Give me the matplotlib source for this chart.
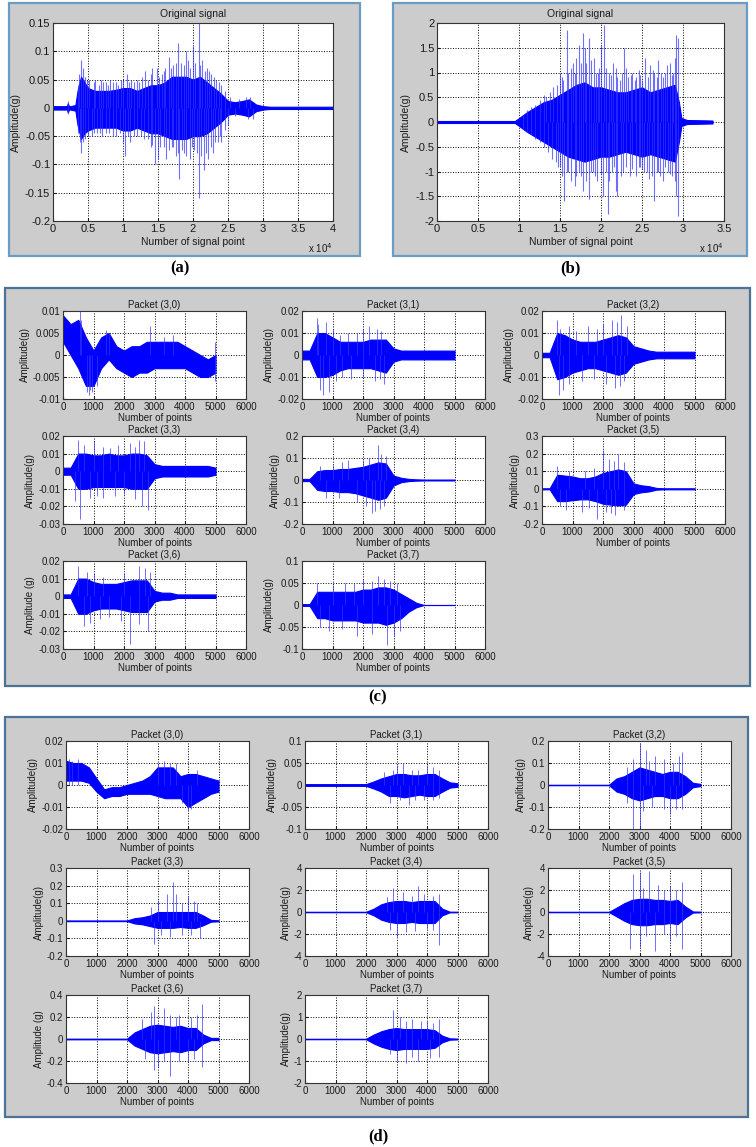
import matplotlib
matplotlib.use('Agg')
import matplotlib.pyplot as plt
from matplotlib.patches import Rectangle
from matplotlib.ticker import FuncFormatter

plt.rcParams['font.family'] = ['Liberation Sans', 'DejaVu Sans']

# ---------------- data ----------------
# (a) original signal: core envelope + individual spikes
A_X = [0, 2000, 2100, 2300, 2500, 3200, 3500, 4000, 4500, 5000, 6000, 7000, 8000, 9000,
       10000, 11000, 12000, 13000, 14000, 15000, 16000, 17000, 18000, 19000, 20000, 21000,
       22000, 23000, 24000, 25000, 26000, 27000, 28000, 29000, 30000, 31000, 40000]
A_HI = [.003, .003, .008, .003, .003, .005, .030, .055, .045, .035, .030, .030, .030, .032,
        .035, .035, .030, .035, .040, .040, .045, .055, .055, .055, .050, .055,
        .045, .035, .025, .012, .010, .012, .015, .006, .003, .002, .002]
A_LO = [-.003, -.003, -.008, -.003, -.003, -.005, -.030, -.055, -.045, -.040, -.035, -.035, -.035, -.035,
        -.040, -.040, -.035, -.040, -.045, -.045, -.050, -.055, -.055, -.055, -.050, -.050,
        -.045, -.035, -.025, -.012, -.010, -.012, -.015, -.006, -.003, -.002, -.002]
A_SPK_X = [2200, 3700, 4000, 4300, 4600, 5200, 6000, 6800, 7500, 8200, 9000, 9700, 10500, 11200,
           12000, 12700, 13200, 14200, 14800, 15500, 16500, 17200, 17800, 18300, 19000, 19500,
           20000, 20800, 21300, 22000, 22600, 23300, 24000, 24600, 27600,
           3500, 4800, 5800, 6500, 7200, 7800, 8600, 9300, 10000, 10800, 11600, 12300, 13600,
           14000, 15200, 15800, 16000, 16800, 17500, 18700, 19300, 20300, 21000, 21700, 22300,
           23000, 23700, 25300, 26500, 28200,
           2200, 3800, 4000, 4600, 5500, 6300, 7000, 8000, 9000, 10300, 11000, 12000, 13000,
           14000, 14500, 15000, 15800, 16200, 17000, 17500, 18000, 18700, 19500, 20200, 20800,
           21500, 22200, 22800, 23500, 24000, 25000, 27800,
           3500, 4300, 5000, 5800, 6700, 7500, 8500, 9500, 10000, 10700, 11500, 12500, 13500,
           14200, 15300, 16500, 17200, 17800, 18400, 19000, 19800, 20500, 21200, 21800, 22500,
           23200, 23800, 24500, 26000, 28500]
A_SPK_Y = [.012, .06, .085, .07, .055, .05, .05, .05, .045, .05, .045, .05, .06, .05,
           .05, .055, .065, .07, .07, .06, .09, .075, .115, .08, .1, .07,
           .11, .15, .085, .07, .06, .05, .04, .03, .02,
           .04, .05, .045, .04, .045, .04, .045, .04, .05, .045, .045, .045, .05,
           .06, .055, .065, .07, .07, .08, .075, .085, .08, .075, .065, .065,
           .055, .045, .02, .015, .02,
           -.01, -.06, -.08, -.055, -.05, -.045, -.05, -.045, -.05, -.085, -.06, -.05, -.055,
           -.07, -.1, -.09, -.07, -.09, -.07, -.085, -.125, -.08, -.09, -.075, -.16,
           -.11, -.09, -.08, -.06, -.06, -.03, -.02,
           -.045, -.06, -.05, -.045, -.045, -.045, -.05, -.045, -.06, -.05, -.05, -.05, -.055,
           -.065, -.07, -.075, -.07, -.08, -.075, -.085, -.07, -.08, -.085, -.08, -.07,
           -.06, -.05, -.04, -.015, -.02]

# (b) original signal
B_X = [0, 9500, 10000, 11000, 12000, 13000, 14000, 15000, 16000, 17000, 18000, 19000, 20000,
       21000, 22000, 23000, 24000, 25000, 26000, 27000, 28000, 29000, 29500, 29800, 30500, 33600]
B_HI = [.02, .02, .08, .20, .30, .40, .45, .55, .65, .75, .80, .70, .70,
        .65, .60, .60, .65, .70, .60, .65, .70, .75, .40, .08, .04, .03]
B_LO = [-.02, -.02, -.08, -.20, -.30, -.40, -.50, -.60, -.70, -.75, -.80, -.75, -.70,
        -.70, -.65, -.60, -.65, -.70, -.65, -.70, -.75, -.80, -.40, -.08, -.04, -.03]
B_SPK_X = [10500, 11500, 12500, 13000, 13800, 14200, 15000, 15400, 15800, 16300, 16800, 17300,
           17800, 18200, 18500, 19100, 19600, 20000, 20400, 21000, 21500, 22000, 22800, 23300,
           23800, 24300, 24800, 25400, 26000, 26500, 27000, 27600, 28000, 28400, 28800, 29200, 29400,
           11000, 12000, 13300, 14600, 15200, 16000, 16600, 17000, 17600, 18000, 18800, 19400,
           19800, 20600, 21200, 21800, 22300, 22500, 23000, 23600, 24100, 24600, 25000, 25700,
           26300, 26800, 27300, 27800, 28600, 29000,
           11000, 12000, 13000, 13500, 14500, 15000, 15500, 16000, 16800, 17300, 17800, 18500,
           19000, 19500, 20300, 20800, 21300, 21800, 22000, 22700, 23500, 24300, 24800, 25300,
           25800, 26500, 27000, 27500, 28200, 28700, 29200, 29400,
           10500, 11500, 12500, 14000, 14800, 15200, 15800, 16300, 17000, 17600, 18200, 18800,
           19300, 20000, 20600, 21000, 21600, 22400, 23000, 23800, 24600, 25000, 25600, 26200,
           26800, 27200, 27800, 28400, 29000]
B_SPK_Y = [.15, .3, .45, .55, .6, .7, 1.0, .85, 1.85, 1.1, 1.0, 1.55,
           1.8, 1.2, 1.7, 1.3, 1.0, 1.55, 1.95, 1.0, 1.2, .9, 1.5, .9,
           1.0, .9, .95, 1.3, 1.15, 1.0, 1.25, .9, 1.15, 1.2, 1.0, 1.75, 1.7,
           .25, .35, .5, .75, .9, 1.0, 1.2, 1.3, 1.2, 1.5, 1.25, 1.0,
           1.1, 1.1, .95, 1.1, .85, 1.0, 1.1, .95, .85, 1.05, .85, .9,
           1.05, .9, 1.0, 1.0, .95, 1.3,
           -.2, -.35, -.5, -.6, -.8, -.9, -1.6, -1.0, -1.3, -1.0, -1.4, -1.55,
           -1.0, -1.2, -1.5, -1.85, -1.0, -1.4, -1.5, -1.0, -1.1, -1.1, -.9, -1.0,
           -1.15, -1.6, -1.0, -1.2, -1.0, -1.1, -1.5, -1.9,
           -.15, -.25, -.4, -.75, -.9, -1.1, -1.0, -1.2, -1.1, -1.1, -1.2, -1.0,
           -1.1, -1.05, -1.0, -1.2, -.9, -1.1, -.9, -.95, -.9, -.95, -1.0, -1.1,
           -1.0, -1.1, -.9, -1.05, -1.2]

# packets: common sample grid 0..5000
PKT_X = [0, 250, 500, 750, 1000, 1250, 1500, 1750, 2000, 2250, 2500,
         2750, 3000, 3250, 3500, 3750, 4000, 4250, 4500, 4750, 5000]
PKT_XTICKS = [0, 1000, 2000, 3000, 4000, 5000, 6000]

# ---- (c) packets ----
C30_HI = [.009, .007, .008, .004, .001, .004, .005, .002, .001, .002, .002, .003, .003, .003, .003, .003, .002, .001, .000, -.001, .000]
C30_LO = [.003, .000, -.003, -.007, -.007, -.003, -.001, -.003, -.004, -.005, -.004, -.004, -.003, -.003, -.003, -.003, -.003, -.004, -.005, -.005, -.004]
C30_SX = [550, 600, 800, 850, 900, 1400, 2850, 4990, 4990, 950, 1100, 1500, 3300, 3600]
C30_SY = [.010, .008, -.0085, -.009, -.008, .0057, .0065, .003, -.006, -.0085, -.007, .005, .004, .0045]

C31_HI = [.002, .002, .010, .010, .008, .006, .006, .006, .006, .007, .007, .007, .003, .002, .002, .002, .002, .002, .002, .002, .002]
C31_LO = [-.002, -.002, -.010, -.010, -.009, -.007, -.006, -.006, -.006, -.006, -.007, -.008, -.003, -.002, -.002, -.002, -.002, -.002, -.002, -.002, -.002]
C31_SX = [480, 520, 800, 1000, 1500, 2000, 2200, 2600, 600, 700, 900, 1100, 1600, 2400, 2700,
          1250, 1800, 2450, 1300, 2000, 2550]
C31_SY = [.017, .014, .015, .012, .010, .012, .013, .011, -.016, -.018, -.017, -.012, -.011, -.012, -.013,
          .009, .010, .012, -.010, -.010, -.011]

C32_HI = [.001, .001, .010, .009, .007, .006, .006, .006, .007, .008, .009, .008, .004, .003, .002, .0015, .0015, .0015, .0015, .0015, .0015]
C32_LO = [-.001, -.001, -.011, -.010, -.008, -.007, -.006, -.006, -.007, -.008, -.009, -.008, -.004, -.003, -.002, -.0015, -.0015, -.0015, -.0015, -.0015, -.0015]
C32_SX = [500, 600, 900, 1500, 2000, 2300, 2600, 2800, 550, 700, 1300, 2100, 2400, 2700,
          1100, 1800, 2450, 900, 1700, 2550]
C32_SY = [.016, .012, .013, .013, .014, .016, .018, .013, -.018, -.016, -.012, -.013, -.015, -.012,
          .011, .012, .015, -.013, -.011, -.014]

C33_HI = [.002, .002, .010, .010, .009, .009, .010, .009, .009, .010, .010, .009, .004, .003, .003, .003, .003, .003, .003, .003, .002]
C33_LO = [-.002, -.002, -.010, -.010, -.009, -.009, -.009, -.009, -.009, -.010, -.010, -.010, -.004, -.003, -.003, -.003, -.003, -.003, -.003, -.003, -.002]
C33_SX = [500, 700, 1000, 1800, 2200, 2500, 2650, 400, 550, 900, 1300, 2000, 2600, 2800,
          1300, 1550, 2350, 1100, 1700, 2350]
C33_SY = [.018, .015, .017, .015, .016, .018, .017, -.017, -.027, -.015, -.015, -.013, -.020, -.022,
          .014, .013, .014, -.014, -.014, -.016]

C34_HI = [.005, .005, .040, .045, .045, .050, .050, .055, .060, .070, .080, .075, .020, .010, .005, .003, .002, .002, .002, .002, .002]
C34_LO = [-.005, -.005, -.045, -.050, -.050, -.055, -.055, -.060, -.070, -.080, -.090, -.080, -.025, -.010, -.005, -.003, -.002, -.002, -.002, -.002, -.002]
C34_SX = [1000, 1500, 2200, 2500, 2600, 2750, 800, 1800, 2300, 2400, 2700,
          600, 1300, 2000, 1200, 2100, 2550]
C34_SY = [.07, .09, .10, .16, .12, .11, -.08, -.10, -.15, -.14, -.12,
          .065, .08, .09, -.08, -.12, -.13]

C35_HI = [.003, .003, .080, .075, .070, .060, .060, .070, .090, .100, .110, .100, .030, .020, .015, .005, .003, .003, .003, .003, .003]
C35_LO = [-.003, -.003, -.070, -.070, -.065, -.060, -.060, -.070, -.085, -.090, -.095, -.090, -.030, -.020, -.015, -.005, -.003, -.003, -.003, -.003, -.003]
C35_SX = [500, 1400, 2000, 2200, 2500, 2700, 800, 1300, 1800, 2100, 2400, 2700,
          900, 1700, 2350, 600, 1550, 2250]
C35_SY = [.13, .10, .22, .17, .20, .15, -.12, -.13, -.17, -.13, -.15, -.12,
          .10, .12, .16, -.10, -.11, -.14]

C36_HI = [.001, .001, .010, .010, .008, .007, .007, .007, .008, .009, .009, .009, .003, .002, .002, .001, .001, .001, .001, .001, .001]
C36_LO = [-.001, -.001, -.010, -.010, -.008, -.007, -.007, -.007, -.008, -.009, -.009, -.009, -.003, -.002, -.002, -.001, -.001, -.001, -.001, -.001, -.001]
C36_SX = [500, 1000, 2500, 2700, 2850, 700, 900, 1500, 2200, 2800,
          800, 1300, 2000, 1200, 1900, 2500]
C36_SY = [.017, .013, .017, .016, .014, -.017, -.015, -.012, -.027, -.020,
          .014, .011, .013, -.013, -.014, -.016]

C37_HI = [.002, .002, .030, .030, .030, .030, .030, .030, .035, .035, .040, .040, .035, .025, .015, .005, .0, .0, .0, .0, .0]
C37_LO = [-.002, -.002, -.030, -.030, -.035, -.035, -.035, -.035, -.040, -.040, -.040, -.045, -.040, -.030, -.015, -.005, .0, .0, .0, .0, .0]
C37_SX = [500, 1400, 2000, 2500, 2700, 2900, 900, 1800, 2800, 3000, 3200,
          1000, 1700, 2300, 3100, 600, 1300, 2300]
C37_SY = [.05, .05, .06, .065, .06, .055, -.06, -.07, -.09, -.07, -.06,
          .045, .05, .055, .05, -.05, -.055, -.065]

# ---- (d) packets ----
D30_HI = [.011, .010, .010, .008, .003, -.002, -.001, -.001, .000, .001, .002, .004, .008, .008, .008, .004, .005, .005, .004, .003, .002]
D30_LO = [.002, .002, .002, .001, -.003, -.006, -.005, -.005, -.004, -.004, -.004, -.004, -.005, -.006, -.006, -.006, -.010, -.008, -.006, -.004, -.003]
D30_SX = [100, 400, 3200, 3600, 3800, 4000, 200, 3000, 3400, 4300, 4100]
D30_SY = [.012, .012, .011, .010, -.008, -.012, .011, .010, .010, .007, -.011]

D31_HI = [.002, .002, .002, .002, .002, .002, .002, .002, .002, .008, .015, .020, .025, .025, .022, .022, .025, .025, .015, .006, .004]
D31_LO = [-.002, -.002, -.002, -.002, -.002, -.002, -.002, -.002, -.002, -.008, -.015, -.025, -.025, -.028, -.025, -.022, -.025, -.025, -.015, -.006, -.004]
D31_SX = [2600, 3000, 3200, 3500, 4000, 4200, 2800, 3100, 3400, 3900, 4400,
          2900, 3700, 4400, 3600, 4200]
D31_SY = [.03, .045, .05, .035, .045, .04, -.04, -.035, -.045, -.035, -.03,
          .035, .035, .035, -.035, -.035]

D32_HI = [.001, .001, .001, .001, .001, .001, .001, .001, .001, .030, .040, .060, .080, .070, .060, .050, .060, .060, .040, .010, .005]
D32_LO = [-.001, -.001, -.001, -.001, -.001, -.001, -.001, -.001, -.001, -.030, -.040, -.060, -.070, -.060, -.050, -.050, -.060, -.060, -.040, -.010, -.005]
D32_SX = [2800, 3000, 3200, 3500, 3800, 4300, 4400, 2800, 3000, 3100, 3800, 4000, 4400,
          2600, 3300, 4100, 2600, 3400, 4200]
D32_SY = [.12, .19, .16, .13, .12, .13, .15, -.20, -.20, -.12, -.11, -.13, -.11,
          .08, .11, .10, -.08, -.10, -.11]

D33_HI = [.002, .002, .002, .002, .002, .002, .002, .002, .002, .015, .020, .030, .050, .050, .050, .050, .050, .050, .030, .005, .003]
D33_LO = [-.002, -.002, -.002, -.002, -.002, -.002, -.002, -.002, -.002, -.015, -.020, -.030, -.040, -.040, -.040, -.035, -.040, -.040, -.025, -.005, -.003]
D33_SX = [3000, 3300, 3500, 3600, 4000, 4300, 2900, 3400, 3800, 4400,
          2800, 3800, 4200, 3100, 4100]
D33_SY = [.12, .15, .22, .15, .14, .10, -.13, -.09, -.08, -.10,
          .08, .10, .11, -.08, -.08]

D34_HI = [.02, .02, .02, .02, .02, .02, .02, .02, .02, .3, .7, .9, 1.0, 1.0, .9, 1.0, 1.0, 1.0, .3, .03, .03]
D34_LO = [-.02, -.02, -.02, -.02, -.02, -.02, -.02, -.02, -.02, -.3, -.7, -.9, -1.0, -1.0, -.9, -1.0, -1.0, -1.0, -.3, -.03, -.03]
D34_SX = [2900, 3200, 3500, 3700, 4200, 4400, 3000, 3300, 4000, 4400,
          2700, 3900, 2800, 3600, 4200]
D34_SY = [2.2, 1.8, 1.5, 2.4, 1.5, 1.6, -2.3, -1.8, -1.5, -3.0,
          1.4, 1.6, -1.6, -1.7, -1.6]

D35_HI = [.02, .02, .02, .02, .02, .02, .02, .02, .02, .4, .8, 1.1, 1.2, 1.2, 1.1, 1.1, 1.0, 1.1, .5, .05, .03]
D35_LO = [-.02, -.02, -.02, -.02, -.02, -.02, -.02, -.02, -.02, -.4, -.8, -1.1, -1.2, -1.2, -1.1, -1.1, -1.0, -1.1, -.5, -.05, -.03]
D35_SX = [2800, 3000, 3300, 3600, 4000, 4400, 2700, 3000, 3500, 4000, 4400,
          3100, 3800, 4200, 3200, 3800, 4200]
D35_SY = [3.5, 3.6, 3.7, 2.5, 2.4, 2.7, -3.4, -3.2, -3.5, -2.6, -3.4,
          2.2, 2.0, 2.0, -2.2, -2.0, -2.2]

D36_HI = [.003, .003, .003, .003, .003, .003, .003, .003, .003, .06, .09, .12, .13, .12, .11, .12, .10, .10, .04, .01, .01]
D36_LO = [-.003, -.003, -.003, -.003, -.003, -.003, -.003, -.003, -.003, -.06, -.09, -.12, -.13, -.12, -.11, -.12, -.10, -.10, -.04, -.01, -.01]
D36_SX = [2800, 2900, 3200, 3400, 3700, 4100, 4450, 2900, 3000, 3400, 3700, 4000, 4450,
          2500, 3600, 4300, 2600, 3200, 4200]
D36_SY = [.25, .30, .28, .22, .22, .20, .32, -.28, -.25, -.34, -.20, -.20, -.25,
          .18, .20, .22, -.18, -.20, -.18]

D37_HI = [.01, .01, .01, .01, .01, .01, .01, .01, .01, .2, .35, .45, .5, .45, .45, .45, .45, .4, .15, .03, .02]
D37_LO = [-.01, -.01, -.01, -.01, -.01, -.01, -.01, -.01, -.01, -.2, -.35, -.45, -.5, -.45, -.45, -.45, -.45, -.4, -.15, -.03, -.02]
D37_SX = [2900, 3100, 3500, 3800, 4400, 2800, 3000, 3300, 3700, 4400,
          3300, 4000, 4200, 3500, 4100]
D37_SY = [1.3, 1.0, 0.9, 0.8, 0.9, -0.7, -1.0, -1.1, -1.0, -0.8,
          0.8, 0.8, 0.75, -0.8, -0.85]

# packet titles / axis ticks
PKT_TITLES = ['Packet (3,0)', 'Packet (3,1)', 'Packet (3,2)', 'Packet (3,3)',
              'Packet (3,4)', 'Packet (3,5)', 'Packet (3,6)', 'Packet (3,7)']
C_YTICKS = [[-0.01, -0.005, 0, 0.005, 0.01], [-0.02, -0.01, 0, 0.01, 0.02],
            [-0.02, -0.01, 0, 0.01, 0.02], [-0.03, -0.02, -0.01, 0, 0.01, 0.02],
            [-0.2, -0.1, 0, 0.1, 0.2], [-0.2, -0.1, 0, 0.1, 0.2, 0.3],
            [-0.03, -0.02, -0.01, 0, 0.01, 0.02], [-0.1, -0.05, 0, 0.05, 0.1]]
D_YTICKS = [[-0.02, -0.01, 0, 0.01, 0.02], [-0.1, -0.05, 0, 0.05, 0.1],
            [-0.2, -0.1, 0, 0.1, 0.2], [-0.2, -0.1, 0, 0.1, 0.2, 0.3],
            [-4, -2, 0, 2, 4], [-4, -2, 0, 2, 4],
            [-0.4, -0.2, 0, 0.2, 0.4], [-2, -1, 0, 1, 2]]

C_SERIES = [(C30_HI, C30_LO, C30_SX, C30_SY), (C31_HI, C31_LO, C31_SX, C31_SY),
            (C32_HI, C32_LO, C32_SX, C32_SY), (C33_HI, C33_LO, C33_SX, C33_SY),
            (C34_HI, C34_LO, C34_SX, C34_SY), (C35_HI, C35_LO, C35_SX, C35_SY),
            (C36_HI, C36_LO, C36_SX, C36_SY), (C37_HI, C37_LO, C37_SX, C37_SY)]
D_SERIES = [(D30_HI, D30_LO, D30_SX, D30_SY), (D31_HI, D31_LO, D31_SX, D31_SY),
            (D32_HI, D32_LO, D32_SX, D32_SY), (D33_HI, D33_LO, D33_SX, D33_SY),
            (D34_HI, D34_LO, D34_SX, D34_SY), (D35_HI, D35_LO, D35_SX, D35_SY),
            (D36_HI, D36_LO, D36_SX, D36_SY), (D37_HI, D37_LO, D37_SX, D37_SY)]

# ---------------- drawing ----------------
W, H = 756, 1147
BLUE = '#0000ff'
SPIKE = '#3333ff'
GRAY_BG = '#cccccc'
TXT = '#1a1a1a'
FMT = FuncFormatter(lambda v, p: f'{v:g}')

fig = plt.figure(figsize=(W / 100, H / 100), dpi=100, facecolor='white')


def px_axes(left, top, width, height):
    return fig.add_axes([left / W, 1 - (top + height) / H, width / W, height / H])


def px_box(left, top, right, bottom, edge):
    fig.add_artist(Rectangle((left / W, 1 - bottom / H), (right - left) / W, (bottom - top) / H,
                             transform=fig.transFigure, facecolor=GRAY_BG, edgecolor=edge,
                             lw=1.6, zorder=-5))


def draw_signal(ax, x, hi, lo, sx, sy, lw_sp=0.7):
    ax.fill_between(x, lo, hi, facecolor=BLUE, edgecolor=BLUE, lw=0.8, zorder=2)
    ax.vlines(sx, 0, sy, color=SPIKE, lw=lw_sp, alpha=0.7, zorder=3)


def base_style(ax, fs):
    ax.set_facecolor('white')
    ax.set_axisbelow(True)
    ax.grid(True, ls=':', color='k', lw=0.7)
    ax.tick_params(labelsize=fs, direction='in', length=2.5, pad=2, colors=TXT)
    for s in ax.spines.values():
        s.set_color('#333333')
        s.set_linewidth(0.8)
    ax.yaxis.set_major_formatter(FMT)


# panel boxes
px_box(9, 3, 360, 256, '#6a9cc4')
px_box(393, 3, 747, 256, '#6a9cc4')
px_box(5, 288, 750, 686, '#4a7396')
px_box(5, 717, 748, 1117, '#4a7396')

# (a) / (b) original signals
for (left, xmax, xt, yl, yt, x, hi, lo, sx, sy) in [
        (53, 40000, [0, 5000, 10000, 15000, 20000, 25000, 30000, 35000, 40000], (-0.2, 0.15),
         [-0.2, -0.15, -0.1, -0.05, 0, 0.05, 0.1, 0.15], A_X, A_HI, A_LO, A_SPK_X, A_SPK_Y),
        (437, 35000, [0, 5000, 10000, 15000, 20000, 25000, 30000, 35000], (-2, 2),
         [-2, -1.5, -1, -0.5, 0, 0.5, 1, 1.5, 2], B_X, B_HI, B_LO, B_SPK_X, B_SPK_Y)]:
    ax = px_axes(left, 23, 287 if left > 400 else 280, 198)
    draw_signal(ax, x, hi, lo, sx, sy, lw_sp=0.8)
    base_style(ax, 8)
    ax.set_xlim(0, xmax)
    ax.set_xticks(xt)
    ax.xaxis.set_major_formatter(FuncFormatter(lambda v, p: f'{v / 1e4:g}'))
    ax.set_ylim(*yl)
    ax.set_yticks(yt)
    ax.set_title('Original signal', fontsize=7.5, pad=4, color=TXT)
    ax.set_xlabel('Number of signal point', fontsize=7.5, labelpad=2, color=TXT)
    ax.set_ylabel('Amplitude(g)', fontsize=7.5, labelpad=3, color=TXT)
    ax.text(1.0, -0.135, r'x 10$^4$', transform=ax.transAxes, ha='right', va='center',
            fontsize=7, color=TXT)

# (c) / (d) wavelet packets
for cols, rows, series, yticks in [([63, 302, 542], [311, 436, 561], C_SERIES, C_YTICKS),
                                   ([66, 305, 548], [741, 868, 995], D_SERIES, D_YTICKS)]:
    for i, (hi, lo, sx, sy) in enumerate(series):
        r, c = divmod(i, 3)
        ax = px_axes(cols[c], rows[r], 183, 88)
        draw_signal(ax, PKT_X, hi, lo, sx, sy)
        base_style(ax, 7)
        ax.set_xlim(0, 6000)
        ax.set_xticks(PKT_XTICKS)
        ax.set_ylim(yticks[i][0], yticks[i][-1])
        ax.set_yticks(yticks[i])
        ax.set_title(PKT_TITLES[i], fontsize=7, pad=2, color=TXT)
        ax.set_xlabel('Number of points', fontsize=7, labelpad=1, color=TXT)
        ylab = 'Amplitude (g)' if i == 6 else 'Amplitude(g)'
        ax.set_ylabel(ylab, fontsize=7, labelpad=2, color=TXT)

# panel letters
for x, y, s in [(180, 268, '(a)'), (570, 268, '(b)'), (378, 697, '(c)'), (378, 1136, '(d)')]:
    fig.text(x / W, 1 - y / H, s, ha='center', va='center', fontsize=12,
             fontweight='bold', family=['Liberation Serif', 'DejaVu Serif'])

fig.savefig('out.png', dpi=100, facecolor='white')
